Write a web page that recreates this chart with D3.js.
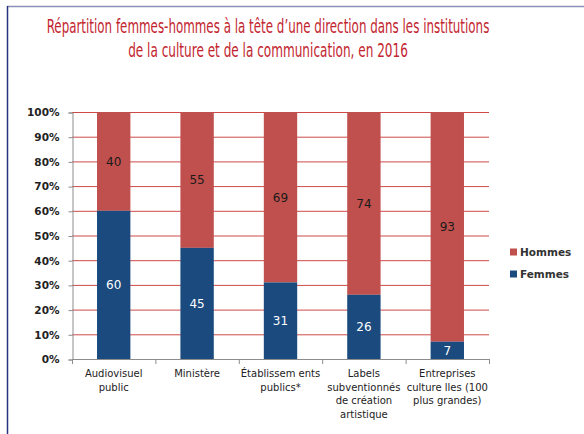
<!DOCTYPE html>
<html>
<head>
<meta charset="utf-8">
<script src="https://cdn.jsdelivr.net/npm/d3@7"></script>
<style>
  body { margin: 0; background: #fff; }
  svg { display: block; }
</style>
</head>
<body>
<div id="chart"></div>
<script>
// data
var categories = [
  ["Audiovisuel", "public"],
  ["Ministère"],
  ["Établissem ents", "publics*"],
  ["Labels", "subventionnés", "de création", "artistique"],
  ["Entreprises", "culture lles (100", "plus grandes)"]
];
var femmes = [60, 45, 31, 26, 7];
var hommes = [40, 55, 69, 74, 93];
var seriesNames = ["Hommes", "Femmes"];
var yTicks = [0, 10, 20, 30, 40, 50, 60, 70, 80, 90, 100];
var titleLines = [
  "Répartition femmes-hommes à la tête d’une direction dans les institutions",
  "de la culture et de la communication, en 2016"
];

var width = 584, height = 434;
var red = "#c0504d", blue = "#1a4a7e";

var svg = d3.select("#chart").append("svg")
  .attr("width", width)
  .attr("height", height);

// frame lines
svg.append("line")
  .attr("x1", 7).attr("x2", width).attr("y1", 6.5).attr("y2", 6.5)
  .style("stroke", "#8a90b8").style("stroke-width", 1.5);
svg.append("line")
  .attr("x1", 7.5).attr("x2", 7.5).attr("y1", 6).attr("y2", height)
  .style("stroke", "#2b3080").style("stroke-width", 1.5);

// title (squeezed horizontally to the width of the condensed original)
var titleWidths = [443, 280];
svg.selectAll(".title")
  .data(titleLines).enter()
  .append("text").attr("class", "title")
  .attr("x", 0)
  .attr("y", 0)
  .attr("text-anchor", "middle")
  .style("font-family", "'Liberation Sans Narrow', 'DejaVu Sans Condensed', sans-serif")
  .style("font-size", "19px")
  .style("fill", "#c3252f")
  .text(function(d) { return d; })
  .attr("transform", function(d, i) {
    var k = titleWidths[i] / this.getComputedTextLength();
    return "translate(268," + (33 + i * 24) + ") scale(" + k + ",1)";
  });

var plotLeft = 72, plotRight = 489, plotTop = 112, plotBottom = 359;

var x = d3.scaleBand()
  .domain(d3.range(categories.length))
  .range([plotLeft, plotRight])
  .paddingInner(0.6)
  .paddingOuter(0.3);

var y = d3.scaleLinear()
  .domain([0, 100])
  .range([plotBottom, plotTop]);

// gridlines
svg.selectAll(".grid")
  .data(yTicks.slice(1)).enter()
  .append("line").attr("class", "grid")
  .attr("x1", plotLeft).attr("x2", plotRight)
  .attr("y1", function(d) { return y(d) + 0.5; })
  .attr("y2", function(d) { return y(d) + 0.5; })
  .style("stroke", "#cd4a48").style("stroke-width", 1);

// y axis
var yAxis = svg.append("g")
  .attr("transform", "translate(" + (plotLeft + 0.5) + ",0.5)")
  .call(d3.axisLeft(y).tickValues(yTicks).tickSize(4).tickFormat(function(d) { return d + "%"; }));
yAxis.select(".domain").style("stroke", "#8c8c8c");
yAxis.selectAll(".tick line").style("stroke", "#8c8c8c");
yAxis.selectAll("text")
  .attr("x", -13)
  .style("font-family", "'DejaVu Sans', sans-serif")
  .style("font-weight", "bold")
  .style("font-size", "10.5px")
  .style("fill", "#222");

// bars: femmes on the bottom, hommes on top
var bars = svg.selectAll(".bar")
  .data(categories).enter()
  .append("g").attr("class", "bar");

bars.append("rect")
  .attr("x", function(d, i) { return x(i); })
  .attr("width", x.bandwidth())
  .attr("y", function(d, i) { return y(femmes[i] + hommes[i]); })
  .attr("height", function(d, i) { return y(femmes[i]) - y(femmes[i] + hommes[i]); })
  .style("fill", red);

bars.append("rect")
  .attr("x", function(d, i) { return x(i); })
  .attr("width", x.bandwidth())
  .attr("y", function(d, i) { return y(femmes[i]); })
  .attr("height", function(d, i) { return y(0) - y(femmes[i]); })
  .style("fill", blue);

// value labels
bars.append("text")
  .attr("x", function(d, i) { return x(i) + x.bandwidth() / 2; })
  .attr("y", function(d, i) { return y(femmes[i] + hommes[i] / 2) + 4.5; })
  .attr("text-anchor", "middle")
  .style("font-family", "'DejaVu Sans', sans-serif")
  .style("font-size", "12px")
  .style("fill", "#1a1a1a")
  .text(function(d, i) { return hommes[i]; });

bars.append("text")
  .attr("x", function(d, i) { return x(i) + x.bandwidth() / 2; })
  .attr("y", function(d, i) { return y(femmes[i] / 2) + 4.5; })
  .attr("text-anchor", "middle")
  .style("font-family", "'DejaVu Sans', sans-serif")
  .style("font-size", "12px")
  .style("fill", "#fff")
  .text(function(d, i) { return femmes[i]; });

// x axis line with boundary ticks
svg.append("line")
  .attr("x1", plotLeft).attr("x2", plotRight)
  .attr("y1", plotBottom + 0.5).attr("y2", plotBottom + 0.5)
  .style("stroke", "#8c8c8c");
svg.selectAll(".xtick")
  .data(d3.range(categories.length + 1)).enter()
  .append("line").attr("class", "xtick")
  .attr("x1", function(d) { return plotLeft + 0.5 + d * (plotRight - plotLeft) / categories.length; })
  .attr("x2", function(d) { return plotLeft + 0.5 + d * (plotRight - plotLeft) / categories.length; })
  .attr("y1", plotBottom).attr("y2", plotBottom + 5)
  .style("stroke", "#8c8c8c");

// category labels
var xLabels = svg.selectAll(".xlabel")
  .data(categories).enter()
  .append("text").attr("class", "xlabel")
  .attr("text-anchor", "middle")
  .style("font-family", "'DejaVu Sans', sans-serif")
  .style("font-size", "10px")
  .style("fill", "#222");
xLabels.selectAll("tspan")
  .data(function(d, i) { return d.map(function(t) { return { t: t, i: i }; }); })
  .enter().append("tspan")
  .attr("x", function(d) { return x(d.i) + x.bandwidth() / 2; })
  .attr("y", function(d, j) { return 377 + j * 13.5; })
  .text(function(d) { return d.t; });

// legend
var legendColors = [red, blue];
var legend = svg.selectAll(".legend")
  .data(seriesNames).enter()
  .append("g").attr("class", "legend")
  .attr("transform", function(d, i) { return "translate(510," + (252 + i * 22) + ")"; });
legend.append("rect")
  .attr("x", 0).attr("y", -3.5)
  .attr("width", 7).attr("height", 7)
  .style("fill", function(d, i) { return legendColors[i]; });
legend.append("text")
  .attr("x", 10).attr("y", 4)
  .style("font-family", "'DejaVu Sans', sans-serif")
  .style("font-weight", "bold")
  .style("font-size", "10.5px")
  .style("fill", "#333")
  .text(function(d) { return d; });
</script>
</body>
</html>
